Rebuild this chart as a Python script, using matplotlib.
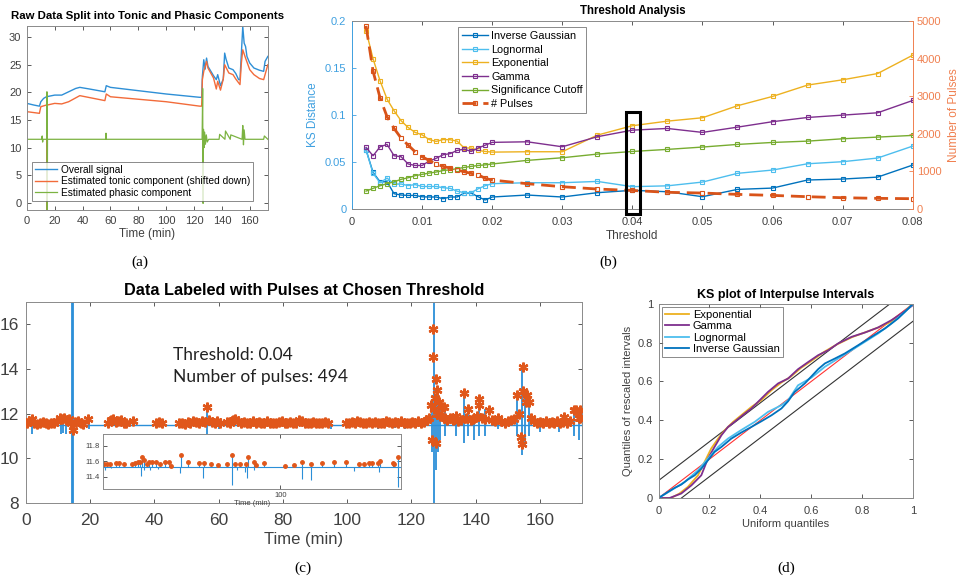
import numpy as np
import matplotlib.pyplot as plt
from matplotlib.patches import Rectangle

plt.rcParams['font.family'] = ['Liberation Sans', 'DejaVu Sans']

# ---- panel (a): raw data split ----
a_sig_t = [0, 5, 9, 10, 12, 14, 20, 25, 30, 35, 38, 45, 56, 57, 60, 80, 100, 124, 125.5,
           126, 127, 128, 129, 130, 134, 136, 137, 139, 141, 142, 143, 145, 148, 150, 152,
           153, 154, 155, 156, 157, 158, 160, 163, 167, 170, 171, 173]
a_sig_v = [18.0, 17.7, 17.5, 18.3, 18.9, 19.2, 19.5, 19.5, 20.1, 20.7, 20.9, 20.6, 20.1, 21.2,
           20.9, 20.3, 19.7, 19.1, 19.1, 22.9, 25.9, 24.2, 26.2, 24.7, 23.0, 22.3, 23.2, 21.2,
           22.4, 27.1, 26.0, 24.4, 24.1, 23.4, 22.3, 22.3, 27.1, 31.9, 28.9, 28.3, 26.5, 25.3,
           24.4, 24.0, 23.8, 25.6, 26.5]
a_ton_t = [0, 9, 10, 14, 14.4, 14.5, 14.6, 20, 25, 30, 38, 56, 57, 60, 100, 124, 125.5, 126, 127,
           129, 130, 134, 136, 137, 139, 141, 142, 145, 148, 150, 153, 154, 155, 157, 160, 163,
           167, 170, 173]
a_ton_v = [16.5, 16.2, 17.4, 17.7, 17.7, -3, 17.7, 18.0, 17.9, 18.3, 19.4, 18.5, 19.7, 19.2,
           18.3, 17.5, 17.5, 22.3, 23.8, 25.6, 24.4, 22.6, 20.6, 22.0, 20.4, 22.4, 25.0, 23.5,
           23.2, 22.4, 21.4, 25.3, 27.7, 26.2, 24.1, 23.2, 22.5, 22.3, 25.0]
a_pha_t = [0, 10.5, 11, 11.3, 11.6, 14.2, 14.4, 14.6, 14.8, 56.5, 56.8, 57.1, 125.8, 126.2,
           126.5, 126.8, 127.2, 127.6, 128.2, 128.8, 129.5, 130.5, 138, 138.4, 142.2, 142.6,
           146, 146.4, 154.5, 155, 155.5, 156, 156.6, 170, 170.5, 173]
a_pha_v = [11.5, 11.5, 12.1, 11.0, 11.5, 11.5, 20.1, -3, 11.5, 11.5, 12.6, 11.5, 11.5, 20.7,
           -0.1, 13.3, 10.0, 12.8, 10.6, 12.3, 11.0, 11.5, 11.5, 12.4, 11.5, 13.0, 11.5, 12.3,
           11.5, 14.0, 10.5, 13.2, 11.5, 11.5, 12.1, 11.5]

# ---- panel (b): threshold analysis ----
thr = [0.002, 0.003, 0.004, 0.005, 0.006, 0.007, 0.008, 0.009, 0.010, 0.011, 0.012, 0.013,
       0.014, 0.015, 0.016, 0.017, 0.018, 0.019, 0.020, 0.025, 0.030, 0.035, 0.040, 0.045,
       0.050, 0.055, 0.060, 0.065, 0.070, 0.075, 0.080]
ks_invgauss = [0.063, 0.039, 0.029, 0.029, 0.0163, 0.0149, 0.0145, 0.0145, 0.013, 0.0128, 0.0128,
               0.011, 0.0128, 0.0128, 0.017, 0.017, 0.013, 0.0096, 0.0128, 0.0149, 0.0128,
               0.0174, 0.0199, 0.0184, 0.0131, 0.0209, 0.0223, 0.0309, 0.0319, 0.034, 0.0468]
ks_lognorm = [0.063, 0.038, 0.028, 0.033, 0.0266, 0.0266, 0.025, 0.026, 0.024, 0.024, 0.024,
              0.0227, 0.022, 0.019, 0.0174, 0.0174, 0.0216, 0.0248, 0.027, 0.028, 0.028,
              0.0294, 0.0238, 0.0247, 0.0287, 0.038, 0.0415, 0.0482, 0.0504, 0.0543, 0.067]
ks_expon = [0.190, 0.160, 0.1365, 0.117, 0.1046, 0.094, 0.0869, 0.0816, 0.079, 0.074, 0.072,
            0.074, 0.0738, 0.0723, 0.065, 0.065, 0.0624, 0.0613, 0.0606, 0.061, 0.061, 0.0787,
            0.0887, 0.0936, 0.0972, 0.110, 0.1199, 0.132, 0.1376, 0.1443, 0.1638]
ks_gamma = [0.0656, 0.0567, 0.0663, 0.0688, 0.0567, 0.0557, 0.048, 0.0464, 0.0464, 0.051, 0.054,
            0.0578, 0.059, 0.0624, 0.0638, 0.0613, 0.065, 0.068, 0.071, 0.0716, 0.0663, 0.077,
            0.084, 0.0858, 0.0816, 0.0872, 0.093, 0.0975, 0.100, 0.1025, 0.1156]
ks_cutoff = [0.0191, 0.022, 0.0248, 0.027, 0.029, 0.0316, 0.0333, 0.0355, 0.0369, 0.0383, 0.0394,
             0.041, 0.0418, 0.043, 0.0443, 0.0454, 0.0464, 0.047, 0.048, 0.0518, 0.0546, 0.0585,
             0.0613, 0.0635, 0.066, 0.0688, 0.0709, 0.0723, 0.0748, 0.0766, 0.0784]
n_pulses = [4875, 3670, 2960, 2456, 2145, 1888, 1702, 1525, 1392, 1294, 1197, 1135, 1090, 1037,
            993, 948, 913, 816, 771, 674, 594, 532, 494, 445, 426, 390, 363, 328, 301, 284, 275]

# ---- panel (c): labelled data ----
c_base = 11.5
pulse_t = [0.3, 1.0, 1.8, 2.6, 3.4, 4.3, 5.2, 6.1, 7.0, 7.9, 8.8, 9.7, 10.5, 11.2, 11.9, 12.6,
           13.3, 14.0, 14.6, 15.4, 16.2, 17.0, 17.8, 19.3,
           25.6, 26.4, 27.2, 28.0, 28.8, 29.6, 30.4, 31.2, 33.4,
           40.4, 41.3, 42.3,
           47.6, 48.5, 49.4, 50.3, 51.2, 52.1, 53.0, 53.9, 54.8, 55.7, 56.3, 56.9, 57.8, 58.7,
           59.6, 60.5,
           62.5, 63.4, 64.3, 65.2, 66.1, 67.0, 67.9, 68.8, 69.7, 70.6, 71.5, 72.4, 73.3, 74.2,
           75.1, 76.0, 76.9, 77.8, 78.7, 79.6, 80.5, 81.4, 82.3, 83.2, 84.1, 85.0, 85.9, 86.8,
           87.7, 88.6, 89.5, 90.4, 91.3, 92.2, 93.1, 94.0,
           99.6, 100.5, 101.4, 102.3, 103.2, 104.1, 105.0, 105.9, 106.8, 107.7, 108.6, 109.5,
           110.4, 111.3, 112.2, 113.1, 114.0, 114.9, 115.8, 116.7, 117.6, 118.5, 119.4, 120.3,
           121.2, 122.1, 123.0, 123.9, 124.8, 125.6,
           126.2, 126.5, 126.7, 126.7, 127.0, 127.3, 127.7, 127.7, 128.0, 128.3, 128.6, 129.0,
           129.5, 130.0, 130.5, 131.2, 132.0, 132.8, 133.8, 134.6, 135.4, 136.3, 137.0, 137.7,
           138.5, 139.3, 140.5, 141.0, 141.0, 142.0, 143.0, 144.0, 145.0, 146.0, 147.0, 148.0,
           149.0, 150.0, 151.0, 152.0, 152.9, 153.5, 154.0, 154.5, 154.8, 154.8, 155.5, 156.0,
           156.5, 157.3, 158.2, 159.1, 160.0, 160.9, 161.8, 162.7, 163.6, 164.5, 165.4, 166.3,
           167.2, 167.6, 168.5, 169.4, 170.5, 171.3, 172.0, 172.6, 172.6]
pulse_v = [11.6, 11.65, 11.75, 11.6, 11.55, 11.6, 11.62, 11.58, 11.55, 11.6, 11.58, 11.65, 11.8,
           11.75, 11.8, 11.7, 11.75, 11.6, 11.26, 11.62, 11.65, 11.6, 11.55, 11.78,
           11.6, 11.7, 11.75, 11.62, 11.65, 11.7, 11.6, 11.58, 11.65,
           11.6, 11.62, 11.58,
           11.58, 11.6, 11.55, 11.62, 11.6, 11.65, 11.62, 11.6, 11.65, 11.62, 12.3, 11.7, 11.62,
           11.6, 11.65, 11.6,
           11.62, 11.6, 11.7, 11.75, 11.65, 11.6, 11.62, 11.58, 11.6, 11.65, 11.6, 11.62, 11.58,
           11.6, 11.65, 11.6, 11.58, 11.6, 11.62, 11.65, 11.6, 11.58, 11.62, 11.6, 11.6, 11.7,
           11.65, 11.6, 11.58, 11.6, 11.62, 11.6, 11.58, 11.6, 11.62, 11.6,
           11.6, 11.58, 11.62, 11.6, 11.65, 11.62, 11.6, 11.58, 11.62, 11.6, 11.62, 11.6, 11.58,
           11.6, 11.65, 11.62, 11.6, 11.62, 11.6, 11.65, 11.6, 11.58, 11.6, 11.62, 11.6, 11.65,
           11.6, 11.62, 11.7, 11.8,
           12.4, 10.8, 15.8, 14.53, 12.2, 12.7, 13.57, 10.71, 13.07, 12.0, 12.5, 11.9,
           12.3, 12.3, 11.8, 11.7, 11.8, 11.7, 11.9, 11.65, 11.7, 12.92, 11.8, 12.23,
           11.7, 11.75, 11.9, 12.67, 12.4, 11.8, 11.75, 12.15, 11.7, 11.65, 11.8, 11.65,
           11.6, 11.65, 11.7, 11.75, 12.82, 12.0, 10.96, 10.63, 14.08, 13.0, 12.5, 12.82,
           12.5, 11.8, 11.65, 11.6, 11.62, 11.6, 11.65, 11.6, 11.62, 11.6, 11.65, 11.6,
           11.62, 11.85, 11.6, 11.65, 12.15, 12.15, 11.8, 12.15, 11.8]
spike_t = [1.8, 10.8, 11.6, 12.4, 14.2, 14.6, 19.5, 56.3, 60, 95, 109.5, 115, 118, 126.9, 127.5,
           126.3, 128.3, 129, 130.5, 133.8, 136.3, 137.7, 139.5, 141, 143, 147, 152.9, 154.5,
           155.2, 156.5, 160, 166, 170.5, 172.2]
spike_lo = [11.07, 11.1, 11.15, 11.1, 8, 8, 11.3, 10.99, 11.3, 11.3, 11.3, 11.35, 11.3, 8, 9.47,
            10.3, 10.3, 10.8, 11.0, 11.0, 10.7, 11.0, 10.8, 11.0, 11.0, 11.3, 11.0, 10.14,
            10.5, 11.0, 11.2, 11.2, 11.0, 10.8]
spike_hi = [11.6, 11.8, 11.8, 11.7, 17, 17, 11.8, 12.3, 11.6, 11.6, 11.6, 11.6, 11.6, 17, 12.5,
            12.5, 13.1, 12.5, 12.3, 11.9, 12.92, 12.23, 11.8, 12.67, 12.2, 11.8, 12.82, 14.08,
            13.0, 12.5, 11.7, 11.7, 12.1, 12.1]

# inset of panel (c)
in_base = 11.53
in_dot_t = [0.56, 2.4, 4.3, 7.3, 9.0, 11.8, 16.5, 18.0, 19.7, 21.2, 22.3, 23.0, 24.7, 26.0, 27.9,
            30.2, 32.0, 35.2, 37.1, 38.6, 44.2, 47.9, 54.1, 56.8, 60.7, 64.8, 70.0, 72.5, 74.2,
            77.4, 80.4, 81.7, 85.0, 86.3, 90.6, 102.3, 107.9, 112.2, 117.1, 123.4, 130.4, 136.9,
            144.4, 147.0, 150.0, 151.5, 154.7, 156.2, 163.1, 164.1, 165.9]
in_dot_v = [11.566, 11.561, 11.561, 11.574, 11.574, 11.561, 11.561, 11.574, 11.583, 11.583, 11.652,
            11.617, 11.566, 11.583, 11.583, 11.59, 11.561, 11.59, 11.595, 11.54, 11.68, 11.59,
            11.574, 11.574, 11.566, 11.553, 11.566, 11.678, 11.561, 11.561, 11.561, 11.66, 11.583,
            11.548, 11.574, 11.54, 11.557, 11.59, 11.561, 11.574, 11.583, 11.583, 11.566, 11.566,
            11.574, 11.574, 11.574, 11.604, 11.574, 11.561, 11.652]
in_spk_t = [1.3, 4.9, 21.7, 23.0, 26.6, 31.1, 43.5, 56.4, 72.5, 75.5, 79.8, 81.1, 85.4, 112.2,
            117.3, 141.6, 155.6, 165.9]
in_spk_lo = [11.488, 11.51, 11.415, 11.488, 11.48, 11.497, 11.445, 11.38, 11.294, 11.488, 11.458,
             11.38, 11.488, 11.367, 11.359, 11.475, 11.466, 11.272]

# ---- panel (d): KS plot ----
ks_exp_x = [0, 0.049, 0.082, 0.115, 0.155, 0.181, 0.207, 0.234, 0.26, 0.293, 0.325, 0.365, 0.404,
            0.444, 0.483, 0.52, 0.56, 0.6, 0.65, 0.7, 0.76, 0.81, 0.86, 0.91, 0.96, 1.0]
ks_exp_y = [0, 0, 0.023, 0.057, 0.117, 0.186, 0.255, 0.306, 0.349, 0.392, 0.426, 0.469, 0.504,
            0.555, 0.595, 0.625, 0.67, 0.705, 0.752, 0.79, 0.828, 0.852, 0.876, 0.905, 0.952, 1.0]
ks_gam_x = [0, 0.043, 0.089, 0.129, 0.168, 0.194, 0.22, 0.247, 0.273, 0.306, 0.339, 0.365, 0.391,
            0.43, 0.47, 0.509, 0.548, 0.588, 0.627, 0.667, 0.706, 0.759, 0.811, 0.863, 0.916,
            0.955, 1.0]
ks_gam_y = [0, 0, 0.023, 0.065, 0.117, 0.203, 0.263, 0.323, 0.366, 0.40, 0.435, 0.461, 0.495,
            0.546, 0.59, 0.615, 0.663, 0.70, 0.735, 0.761, 0.796, 0.83, 0.852, 0.878, 0.916,
            0.95, 0.993]
ks_logn_x = [0, 0.05, 0.102, 0.155, 0.194, 0.234, 0.273, 0.325, 0.378, 0.43, 0.483, 0.509, 0.548,
             0.601, 0.654, 0.706, 0.759, 0.811, 0.863, 0.916, 0.969, 1.0]
ks_logn_y = [0, 0.04, 0.082, 0.143, 0.203, 0.263, 0.306, 0.35, 0.392, 0.443, 0.478, 0.503, 0.58,
             0.62, 0.676, 0.718, 0.761, 0.804, 0.847, 0.899, 0.959, 1.0]
ks_ig_x = [0, 0.037, 0.063, 0.089, 0.115, 0.142, 0.168, 0.194, 0.22, 0.247, 0.286, 0.325, 0.365,
           0.404, 0.444, 0.483, 0.509, 0.535, 0.575, 0.627, 0.654, 0.693, 0.732, 0.785, 0.837,
           0.89, 0.942, 0.982, 1.0]
ks_ig_y = [0, 0.031, 0.052, 0.069, 0.095, 0.117, 0.151, 0.194, 0.237, 0.263, 0.306, 0.337, 0.366,
           0.395, 0.426, 0.461, 0.498, 0.546, 0.59, 0.663, 0.693, 0.718, 0.744, 0.787, 0.83,
           0.873, 0.925, 0.976, 1.0]
ks_band = 0.09

# colours
BLUE = '#0072BD'
LBLUE = '#4DBEEE'
YEL = '#EDB120'
PURP = '#7E2F8E'
GRN = '#77AC30'
ORNG = '#D95319'
GRAY = '#8a8a8a'
TXT = '#404040'


def matlab_style(ax, fs, pad=4):
    for s in ax.spines.values():
        s.set_color(GRAY)
        s.set_linewidth(0.7)
    ax.tick_params(direction='in', top=True, right=True, labelsize=fs, colors=TXT,
                   length=3, width=0.6, pad=pad)


fig = plt.figure(figsize=(9.6, 5.85), dpi=100)

# (a)
ax_a = fig.add_axes([0.028, 0.641, 0.251, 0.3145])
ax_a.plot(a_sig_t, a_sig_v, color='#2E8FD6', lw=1.0, label='Overall signal')
ax_a.plot(a_ton_t, a_ton_v, color='#F26B3A', lw=1.0, label='Estimated tonic component (shifted down)')
ax_a.plot(a_pha_t, a_pha_v, color='#7CB342', lw=0.9, label='Estimated phasic component')
ax_a.set_xlim(0, 173)
ax_a.set_ylim(-1.3, 32)
ax_a.set_xticks(range(0, 161, 20))
ax_a.set_yticks(range(0, 31, 5))
matlab_style(ax_a, 8)
ax_a.set_xlabel('Time (min)', fontsize=8.5, color=TXT, labelpad=2)
ax_a.set_title('Raw Data Split into Tonic and Phasic Components', fontsize=8.2,
               fontweight='bold', pad=5)
leg = ax_a.legend(loc='lower left', bbox_to_anchor=(0.02, 0.05), fontsize=7.3, frameon=True,
                  fancybox=False, edgecolor='#555555', handlelength=2.2, borderpad=0.3,
                  labelspacing=0.15, handletextpad=0.4, borderaxespad=0)
leg.get_frame().set_linewidth(0.6)

# (b)
ax_b = fig.add_axes([0.3667, 0.6427, 0.584, 0.321])
ax_r = ax_b.twinx()
mk = dict(marker='s', markersize=3, markerfacecolor='none', markeredgewidth=0.8, lw=1.0)
ax_b.plot(thr, ks_invgauss, color=BLUE, label='Inverse Gaussian', **mk)
ax_b.plot(thr, ks_lognorm, color=LBLUE, label='Lognormal', **mk)
ax_b.plot(thr, ks_expon, color=YEL, label='Exponential', **mk)
ax_b.plot(thr, ks_gamma, color=PURP, label='Gamma', **mk)
ax_b.plot(thr, ks_cutoff, color=GRN, label='Significance Cutoff', **mk)
ax_r.plot(thr, n_pulses, color=ORNG, ls=(0, (5, 2.5)), lw=2.0, marker='s', markersize=3.5,
          markerfacecolor='none', markeredgewidth=0.8, label='# Pulses')
ax_b.set_xlim(0, 0.08)
ax_b.set_ylim(0, 0.2)
ax_r.set_ylim(0, 5000)
ax_b.set_xticks([0, 0.01, 0.02, 0.03, 0.04, 0.05, 0.06, 0.07, 0.08])
ax_b.set_xticklabels(['0', '0.01', '0.02', '0.03', '0.04', '0.05', '0.06', '0.07', '0.08'])
ax_b.set_yticks([0, 0.05, 0.1, 0.15, 0.2])
ax_b.set_yticklabels(['0', '0.05', '0.1', '0.15', '0.2'])
ax_r.set_yticks(range(0, 5001, 1000))
matlab_style(ax_b, 8)
ax_b.tick_params(axis='x', pad=6)
ax_b.tick_params(right=False)
ax_b.tick_params(axis='y', colors='#3FA0E0')
ax_b.spines['left'].set_color('#3FA0E0')
ax_b.spines['right'].set_visible(False)
for s in ax_r.spines.values():
    s.set_visible(False)
ax_r.spines['right'].set_visible(True)
ax_r.spines['right'].set_color('#F08050')
ax_r.spines['right'].set_linewidth(0.7)
ax_r.tick_params(direction='in', labelsize=8, colors='#F08050', length=3, width=0.6, pad=3)
ax_b.set_xlabel('Threshold', fontsize=8.5, color=TXT, labelpad=2)
ax_b.set_ylabel('KS Distance', fontsize=8.5, color='#3FA0E0', labelpad=4)
ax_r.set_ylabel('Number of Pulses', fontsize=8.5, color='#F08050', labelpad=5)
ax_b.set_title('Threshold Analysis', fontsize=8.3, fontweight='bold', pad=5)
ax_r.add_patch(Rectangle((0.0391, -120), 0.002, 2700, fill=False, ec='black', lw=2.2,
                         clip_on=False, zorder=5))
h1, l1 = ax_b.get_legend_handles_labels()
h2, l2 = ax_r.get_legend_handles_labels()
leg = ax_r.legend(h1 + h2, l1 + l2, loc='upper left', bbox_to_anchor=(0.189, 0.968),
                  fontsize=7.8, fancybox=False, edgecolor='#555555', handlelength=2.4,
                  borderpad=0.35, labelspacing=0.33, handletextpad=0.3, borderaxespad=0)
leg.get_frame().set_linewidth(0.6)

# (c)
ax_c = fig.add_axes([0.027, 0.140, 0.579, 0.344])
ax_c.plot([0, 173], [c_base, c_base], color='#2B8FD8', lw=1.0, zorder=2)
ax_c.vlines(spike_t, spike_lo, spike_hi, color='#2B8FD8', lw=1.3, zorder=2)
ax_c.plot(pulse_t, pulse_v, ls='none', marker=(6, 2, 0), markersize=7, markeredgewidth=1.7,
          color='#E0571B', zorder=3)
ax_c.set_xlim(0, 173)
ax_c.set_ylim(8, 17)
ax_c.set_xticks(range(0, 161, 20))
ax_c.set_yticks(range(8, 17, 2))
matlab_style(ax_c, 12.5, pad=5)
ax_c.tick_params(axis='x', pad=7)
ax_c.set_xlabel('Time (min)', fontsize=12, color=TXT, labelpad=3)
ax_c.set_title('Data Labeled with Pulses at Chosen Threshold', fontsize=11.7,
               fontweight='bold', pad=5)
ax_c.text(0.264, 0.68, 'Threshold: 0.04\nNumber of pulses: 494', transform=ax_c.transAxes,
          fontsize=12.5, family=['Lato', 'DejaVu Sans'], color='#222222', va='center',
          linespacing=1.45)

ax_in = fig.add_axes([0.107, 0.164, 0.311, 0.094])
ax_in.plot([0, 168], [in_base, in_base], color='#2B8FD8', lw=0.8)
ax_in.vlines(in_dot_t, in_base, in_dot_v, color='#2B8FD8', lw=0.8)
ax_in.vlines(in_spk_t, in_spk_lo, in_base, color='#2B8FD8', lw=0.8)
ax_in.plot(in_dot_t, in_dot_v, ls='none', marker='o', markersize=2.5, color='#E0571B')
ax_in.set_xlim(0, 168)
ax_in.set_ylim(11.24, 11.95)
ax_in.set_xticks([100])
ax_in.set_yticks([11.4, 11.6, 11.8])
matlab_style(ax_in, 5.5, pad=2)
ax_in.set_xlabel('Time (min)', fontsize=5.5, color=TXT, labelpad=1)

# (d)
ax_d = fig.add_axes([0.686, 0.1487, 0.265, 0.332])
xx = [0, 1]
ax_d.plot(xx, [0, 1], color='#FF3333', lw=0.8, zorder=1)
ax_d.plot(xx, [ks_band, 1 + ks_band], color='#333333', lw=0.8, zorder=1)
ax_d.plot(xx, [-ks_band, 1 - ks_band], color='#333333', lw=0.8, zorder=1)
ax_d.plot(ks_exp_x, ks_exp_y, color=YEL, lw=1.3, label='Exponential')
ax_d.plot(ks_gam_x, ks_gam_y, color=PURP, lw=1.3, label='Gamma')
ax_d.plot(ks_logn_x, ks_logn_y, color=LBLUE, lw=1.3, label='Lognormal')
ax_d.plot(ks_ig_x, ks_ig_y, color=BLUE, lw=1.3, label='Inverse Gaussian')
ax_d.set_xlim(0, 1)
ax_d.set_ylim(0, 1)
ax_d.set_xticks([0, 0.2, 0.4, 0.6, 0.8, 1])
ax_d.set_xticklabels(['0', '0.2', '0.4', '0.6', '0.8', '1'])
ax_d.set_yticks([0, 0.2, 0.4, 0.6, 0.8, 1])
ax_d.set_yticklabels(['0', '0.2', '0.4', '0.6', '0.8', '1'])
matlab_style(ax_d, 8)
ax_d.tick_params(axis='x', pad=6)
ax_d.set_xlabel('Uniform quantiles', fontsize=8, color=TXT, labelpad=2)
ax_d.set_ylabel('Quantiles of rescaled intervals', fontsize=8, color=TXT, labelpad=3)
ax_d.set_title('KS plot of Interpulse Intervals', fontsize=9, fontweight='bold', pad=4)
leg = ax_d.legend(loc='upper left', bbox_to_anchor=(0.012, 0.985), fontsize=8,
                  fancybox=False, edgecolor='#555555', handlelength=2.2, borderpad=0.3,
                  labelspacing=0.12, handletextpad=0.3, borderaxespad=0)
leg.get_frame().set_linewidth(0.6)

# panel labels
for lx, ly, lab in [(140, 262, '(a)'), (608, 262, '(b)'), (303, 568, '(c)'), (786, 568, '(d)')]:
    fig.text(lx / 960, 1 - ly / 585, lab, ha='center', va='center', fontsize=11,
             family=['Liberation Serif', 'DejaVu Serif'])

fig.savefig('out.png', dpi=100)
